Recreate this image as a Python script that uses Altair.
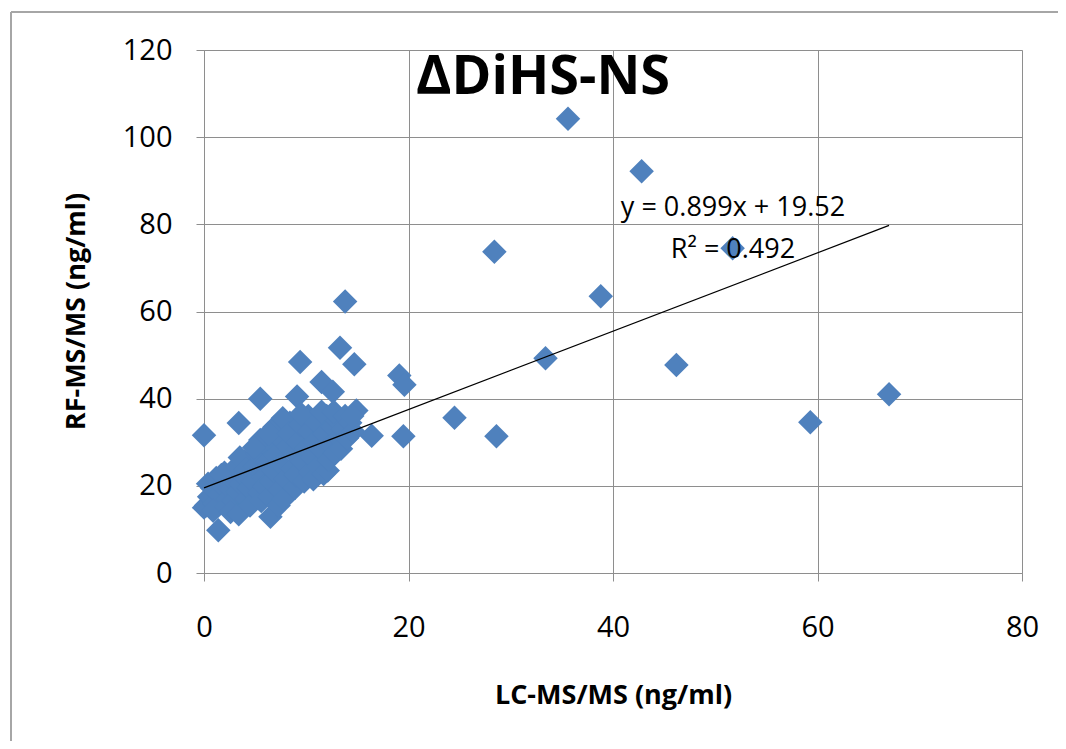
import altair as alt
import pandas as pd

# LC-MS/MS (x) and RF-MS/MS (y) values, ng/ml
lc_ms = [
    35.6, 42.8, 28.4, 51.7, 38.8, 13.8, 33.4, 46.2, 67.0, 59.3, 24.5, 28.6,
    19.5, 16.4, 19.1, 19.6, 14.7, 13.3, 9.4, 9.1, 11.5, 12.6, 5.5, 3.4, 0.0,
    1.4, 6.5, 0.0,
    0.2, 0.5, 0.8, 1.0, 0.4, 1.2, 1.5, 0.9,
    1.8, 2.0, 2.3, 2.5, 2.7, 2.2, 2.9, 3.0, 1.7, 2.6,
    3.4, 3.3, 3.6, 3.8, 4.0, 4.2, 4.4, 3.5, 4.5, 4.1,
    4.8, 5.0, 5.2, 5.4, 5.6, 5.8, 6.0, 5.5, 4.9, 6.2, 5.9,
    6.4, 6.6, 6.8, 7.0, 7.2, 6.9, 7.4, 7.5, 6.3, 7.3,
    7.8, 8.0, 8.2, 8.4, 8.6, 8.8, 7.7, 8.9, 8.3, 9.0,
    9.2, 9.4, 9.6, 9.8, 10.0, 10.2, 10.4, 9.5, 10.3, 10.6,
    10.7, 10.8, 11.0, 11.2, 11.4, 11.7, 11.8, 12.0, 11.5, 12.1,
    12.2, 12.4, 12.6, 12.8, 13.0, 13.2, 13.4, 12.7,
    13.6, 13.8, 14.0, 14.3, 14.6, 14.9, 14.5,
]
rf_ms = [
    104.2, 92.2, 73.7, 74.5, 63.5, 62.3, 49.3, 47.7, 41.0, 34.6, 35.6, 31.4,
    31.4, 31.5, 45.3, 43.2, 47.9, 51.7, 48.4, 40.5, 43.8, 41.6, 40.0, 34.4, 31.6,
    9.8, 12.9, 15.0,
    15.5, 17.5, 19.5, 16.0, 20.5, 21.8, 18.0, 14.3,
    20.0, 23.0, 17.0, 19.5, 21.5, 15.2, 16.5, 24.0, 22.5, 14.0,
    13.5, 18.5, 20.5, 22.5, 25.5, 17.0, 19.5, 26.5, 15.5, 23.8,
    21.0, 24.5, 27.5, 18.5, 16.5, 22.0, 29.5, 30.5, 28.8, 25.5, 19.8,
    17.5, 21.0, 23.5, 27.0, 31.5, 33.5, 19.0, 25.0, 32.0, 15.5,
    17.0, 21.5, 29.0, 34.5, 24.0, 27.5, 35.5, 19.5, 32.0, 22.5,
    30.0, 34.0, 25.5, 21.0, 28.5, 36.0, 23.0, 36.5, 32.5, 26.5,
    21.5, 30.0, 34.5, 24.5, 28.5, 22.7, 32.0, 36.0, 37.0, 23.5,
    26.0, 29.5, 33.5, 27.5, 35.0, 31.0, 28.5, 37.0,
    33.0, 36.0, 31.0, 34.5, 32.5, 37.3, 36.0,
]

fit_slope = 0.899
fit_intercept = 19.52
equation_text = "y = 0.899x + 19.52"
r2_text = "R² = 0.492"
chart_title = "ΔDiHS-NS"

x_ticks = [0, 20, 40, 60, 80]
y_ticks = [0, 20, 40, 60, 80, 100, 120]

FONT = "Open Sans"
GREY = "#8e8e8e"
BLUE = "#4F81BD"

df = pd.DataFrame({"lc": lc_ms, "rf": rf_ms})
x_lo, x_hi = min(lc_ms), max(lc_ms)
fit_df = pd.DataFrame({
    "lc": [x_lo, x_hi],
    "rf": [fit_slope * x_lo + fit_intercept, fit_slope * x_hi + fit_intercept],
})

xscale = alt.Scale(domain=[0, 80], nice=False, zero=False)
yscale = alt.Scale(domain=[0, 120], nice=False, zero=False)

x_axis = alt.Axis(
    values=x_ticks, title="LC-MS/MS (ng/ml)", grid=True, gridColor=GREY,
    domainColor=GREY, tickColor=GREY, tickSize=8, labelFont=FONT,
    labelFontSize=29, labelColor="black", labelPadding=32, labelFlush=False,
    titleFont=FONT, titleFontSize=27, titleFontWeight="bold",
    titleColor="black", titleX=409, titleY=122, titleBaseline="middle",
    titleAlign="center",
)
y_axis = alt.Axis(
    values=y_ticks, title="RF-MS/MS (ng/ml)", grid=True, gridColor=GREY,
    domainColor=GREY, tickColor=GREY, tickSize=8, labelFont=FONT,
    labelFontSize=29, labelColor="black", labelPadding=24, labelFlush=False,
    titleFont=FONT, titleFontSize=27, titleFontWeight="bold",
    titleColor="black", titleX=-128, titleY=261, titleAngle=-90,
    titleBaseline="middle", titleAlign="center",
)

points = alt.Chart(df).mark_point(
    shape="diamond", filled=True, size=600, color=BLUE, opacity=1
).encode(
    x=alt.X("lc:Q", scale=xscale, axis=x_axis),
    y=alt.Y("rf:Q", scale=yscale, axis=y_axis),
)

trend = alt.Chart(fit_df).mark_line(color="black", strokeWidth=1.2).encode(
    x=alt.X("lc:Q", scale=xscale),
    y=alt.Y("rf:Q", scale=yscale),
)

eq_df = pd.DataFrame({"t": [equation_text]})
r2_df = pd.DataFrame({"t": [r2_text]})
eq_mark = alt.Chart(eq_df).mark_text(
    font=FONT, fontSize=27, color="black", align="center", baseline="middle"
).encode(text="t:N", x=alt.value(529), y=alt.value(158))
r2_mark = alt.Chart(r2_df).mark_text(
    font=FONT, fontSize=27, color="black", align="center", baseline="middle"
).encode(text="t:N", x=alt.value(529), y=alt.value(200))

title_df = pd.DataFrame({"t": [chart_title]})
title_mark = alt.Chart(title_df).mark_text(
    font=FONT, fontSize=54, fontWeight="bold", color="black",
    align="center", baseline="middle"
).encode(text="t:N", x=alt.value(339), y=alt.value(28))

border_left = alt.Chart(title_df).mark_rule(color="#a6a6a6", strokeWidth=2).encode(
    x=alt.value(-193), y=alt.value(-38), y2=alt.value(700)
)
border_top = alt.Chart(title_df).mark_rule(color="#a6a6a6", strokeWidth=2).encode(
    x=alt.value(-193), x2=alt.value(870), y=alt.value(-38)
)

chart = alt.layer(
    border_left, border_top, points, trend, eq_mark, r2_mark, title_mark
).properties(
    width=818, height=523,
    autosize=alt.AutoSizeParams(type="none"),
    padding={"left": 196, "top": 42, "right": 36, "bottom": 168},
).configure_view(stroke=None).configure(background="white")

chart.save("out.html", embed_options={"renderer": "svg", "actions": False})
